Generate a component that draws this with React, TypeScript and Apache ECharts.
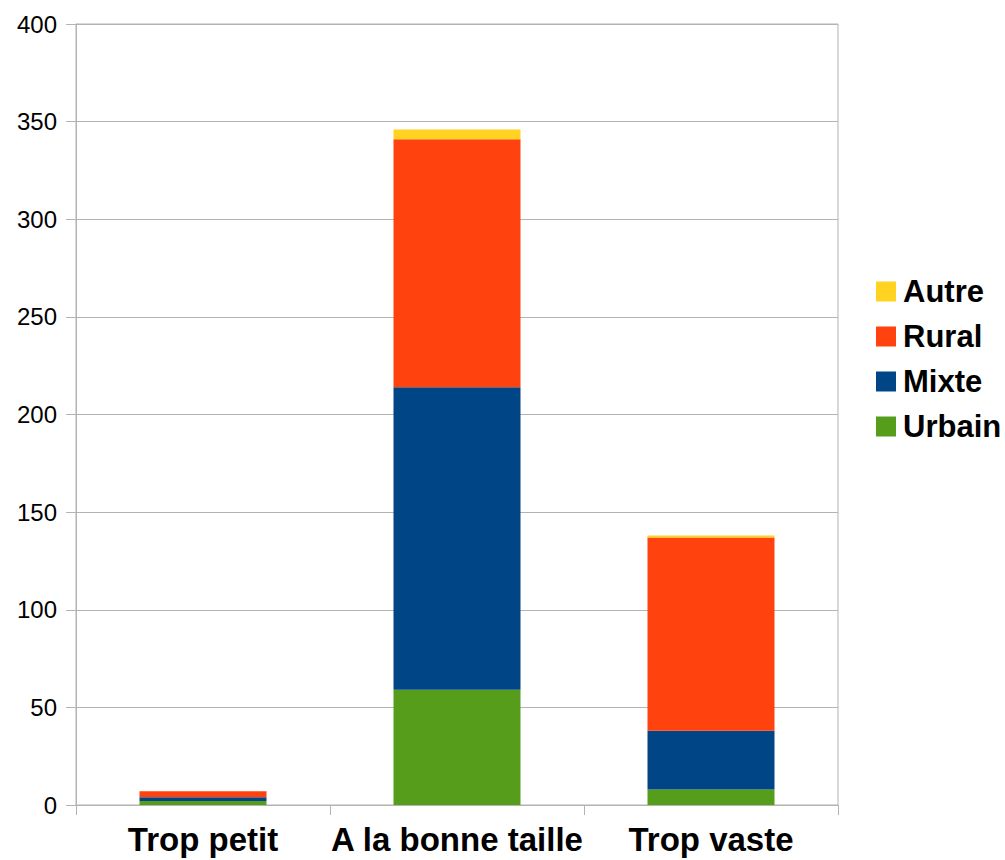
import React, { useEffect, useRef } from "react";
import * as echarts from "echarts";

const categories = ["Trop petit", "A la bonne taille", "Trop vaste"];
const urbain = [2, 59, 8];
const mixte = [2, 155, 30];
const rural = [3, 127, 99];
const autre = [0, 5, 1];
const seriesNames = ["Urbain", "Mixte", "Rural", "Autre"];
const legendOrder = ["Autre", "Rural", "Mixte", "Urbain"];
const colors = ["#579d1c", "#004586", "#ff420e", "#ffd320"];

export default function App() {
  const ref = useRef<HTMLDivElement>(null);
  useEffect(() => {
    if (!ref.current) return;
    const chart = echarts.init(ref.current, undefined, { renderer: "svg" });
    const values = [urbain, mixte, rural, autre];
    const gray = "#b3b3b3";
    chart.setOption({
      animation: false,
      backgroundColor: "#ffffff",
      textStyle: { fontFamily: "Liberation Sans, Arial, sans-serif" },
      grid: {
        left: 76,
        right: 167,
        top: 24,
        bottom: 55,
        show: true,
        borderColor: gray,
        borderWidth: 1,
      },
      legend: {
        data: legendOrder,
        orient: "vertical",
        left: 871,
        top: 271,
        itemWidth: 20,
        itemHeight: 20,
        itemGap: 14,
        icon: "rect",
        textStyle: {
          fontSize: 31,
          fontWeight: "bold",
          color: "#000",
          lineHeight: 31,
          padding: [0, 0, 0, 2],
          fontFamily: "Liberation Sans, Arial, sans-serif",
        },
      },
      xAxis: {
        type: "category",
        data: categories,
        boundaryGap: true,
        axisLine: { show: true, lineStyle: { color: gray } },
        axisTick: { show: true, length: 10, lineStyle: { color: gray } },
        axisLabel: {
          interval: 0,
          hideOverlap: false,
          fontSize: 33,
          fontWeight: "bold",
          color: "#000",
          margin: 18,
          fontFamily: "Liberation Sans, Arial, sans-serif",
        },
      },
      yAxis: {
        type: "value",
        min: 0,
        max: 400,
        interval: 50,
        axisLine: { show: true, lineStyle: { color: gray } },
        axisTick: { show: true, length: 10, lineStyle: { color: gray } },
        splitLine: { show: true, lineStyle: { color: gray } },
        axisLabel: {
          fontSize: 24,
          color: "#000",
          margin: 19,
          fontFamily: "Liberation Sans, Arial, sans-serif",
        },
      },
      series: seriesNames.map((name, i) => ({
        name,
        type: "bar",
        stack: "total",
        barWidth: "50%",
        data: values[i],
        itemStyle: { color: colors[i] },
      })),
    });
    return () => chart.dispose();
  }, []);
  return (
    <div
      ref={ref}
      style={{ position: "absolute", left: 0, top: 0, width: 1005, height: 860 }}
    />
  );
}
